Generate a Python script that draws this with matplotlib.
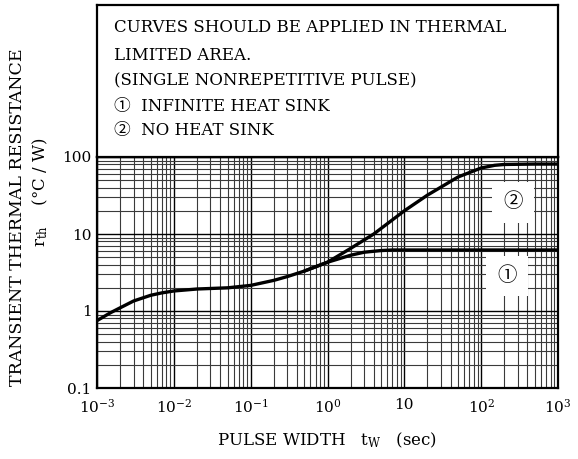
import numpy as np
import matplotlib.pyplot as plt

plt.rcParams['font.family'] = ['DejaVu Serif', 'Noto Sans CJK JP']
plt.rcParams['mathtext.fontset'] = 'dejavuserif'

# curve 1: infinite heat sink
t1 = [1e-3, 1.5e-3, 2e-3, 3e-3, 5e-3, 7e-3, 1e-2, 2e-2, 5e-2, 0.1, 0.2, 0.3,
      0.5, 1, 2, 3, 5, 7, 10, 100, 1000]
r1 = [0.75, 0.95, 1.1, 1.35, 1.6, 1.72, 1.82, 1.93, 2.0, 2.15, 2.5, 2.8,
      3.3, 4.3, 5.3, 5.8, 6.1, 6.2, 6.2, 6.2, 6.2]

# curve 2: no heat sink (joins curve 1 below ~1 s)
t2 = [0.5, 1, 2, 4, 10, 20, 50, 100, 150, 200, 500, 1000]
r2 = [3.3, 4.3, 6.5, 10, 20, 32, 55, 72, 78, 80, 81, 81]

xticks = [1e-3, 1e-2, 1e-1, 1, 10, 1e2, 1e3]
xticklabels = ['10$^{-3}$', '10$^{-2}$', '10$^{-1}$', '10$^{0}$', '10',
               '10$^{2}$', '10$^{3}$']
yticks = [0.1, 1, 10, 100]
yticklabels = ['0.1', '1', '10', '100']

notes = ['CURVES SHOULD BE APPLIED IN THERMAL',
         'LIMITED AREA.',
         '(SINGLE NONREPETITIVE PULSE)',
         '\u2460  INFINITE HEAT SINK',
         '\u2461  NO HEAT SINK']
note_y = [27, 56, 81, 106, 131]

W, H = 578, 459
fig = plt.figure(figsize=(W / 100, H / 100), dpi=100)

x0, x1 = 97 / W, 558 / W
ax = fig.add_axes([x0, 1 - 388 / H, x1 - x0, (388 - 157) / H])
box = fig.add_axes([x0, 1 - 157 / H, x1 - x0, (157 - 5) / H])

ax.set_xscale('log')
ax.set_yscale('log')
ax.set_xlim(1e-3, 1e3)
ax.set_ylim(0.1, 100)
ax.grid(True, which='major', color='black', linewidth=1.0)
ax.grid(True, which='minor', color='#3a3a3a', linewidth=0.8)
ax.set_axisbelow(True)
ax.tick_params(which='both', length=0, labelsize=11)
ax.tick_params(axis='x', pad=7)
ax.tick_params(axis='y', pad=4)
ax.set_xticks(xticks)
ax.set_xticklabels(xticklabels)
ax.set_yticks(yticks)
ax.set_yticklabels(yticklabels)
for s in ax.spines.values():
    s.set_linewidth(1.6)

ax.plot(t1, r1, color='black', lw=2.4, solid_capstyle='round')
ax.plot(t2, r2, color='black', lw=2.4, solid_capstyle='round')

# curve tags on white patches
ax.text(260, 26, '\u2461', fontsize=14, ha='center', va='center',
        bbox=dict(facecolor='white', edgecolor='none', pad=8))
ax.text(215, 2.85, '\u2460', fontsize=14, ha='center', va='center',
        bbox=dict(facecolor='white', edgecolor='none', pad=8))

box.set_xticks([])
box.set_yticks([])
for s in box.spines.values():
    s.set_linewidth(1.6)
for line, ys in zip(notes, note_y):
    fig.text(114 / W, 1 - ys / H, line, fontsize=12, va='center', ha='left')

fig.text(18 / W, 1 - 217 / H, 'TRANSIENT THERMAL RESISTANCE', rotation=90,
         fontsize=12.5, ha='center', va='center')
fig.text(40 / W, 1 - 192 / H, 'r$_{\\mathrm{th}}$    (\u00b0C / W)', rotation=90,
         fontsize=12, ha='center', va='center')
fig.text(327 / W, 1 - 440 / H, 'PULSE WIDTH   t$_{\\mathrm{W}}$   (sec)',
         fontsize=12, ha='center', va='center')

fig.savefig('out.png', dpi=100)
